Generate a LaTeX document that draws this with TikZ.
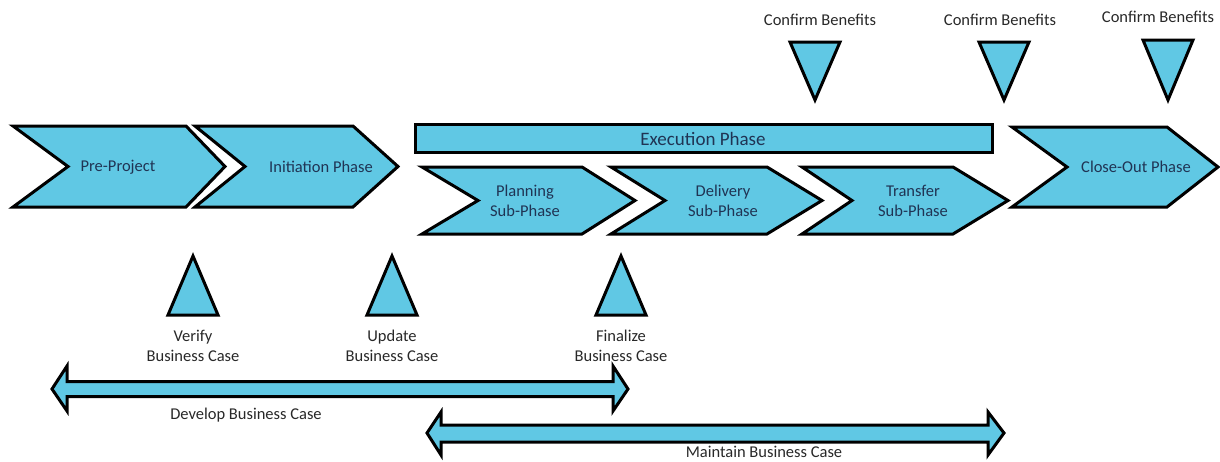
\documentclass[tikz,border=0pt]{standalone}
\usepackage{fontspec}
\setmainfont{Carlito}
\definecolor{phasefill}{RGB}{96,200,228}
\definecolor{phasetext}{RGB}{32,52,84}
\definecolor{notetext}{RGB}{40,40,40}

\tikzset{
  phase/.style={draw=black, line width=3pt, fill=phasefill, line join=miter},
  phaselabel/.style={text=phasetext, font=\fontsize{16.5}{20}\selectfont, align=center, inner sep=0pt},
  notelabel/.style={text=notetext, font=\fontsize{16.5}{20}\selectfont, align=center, inner sep=0pt}
}

\begin{document}
\begin{tikzpicture}[x=1pt,y=-1pt]
\useasboundingbox (0,0) rectangle (1220,461);

% phase chevrons: left / notch / top right / tip / top / bottom
\foreach \l/\n/\r/\t/\yt/\yb in {13/68/186/225/126/207, 195/245/353/398/126/207,
                                   422/478/582/635/167/234, 611/665/767/822/167/234,
                                   802/852/953/1008/167/234, 1012/1067/1167/1218/127/207}
{
  \pgfmathsetmacro\ym{(\yt+\yb)/2}
  \draw[phase] (\l,\yt) -- (\r,\yt) -- (\t,\ym) -- (\r,\yb) -- (\l,\yb) -- (\n,\ym) -- cycle;
}
\node[phaselabel] (pre) at (118,167) {Pre-Project};
\node[phaselabel] (init) at (321,167) {Initiation Phase};
\node[phaselabel] (plan) at (525,201) {Planning\\Sub-Phase};
\node[phaselabel] (deliv) at (723,201) {Delivery\\Sub-Phase};
\node[phaselabel] (trans) at (913,201) {Transfer\\Sub-Phase};
\node[phaselabel] (close) at (1136,167) {Close-Out Phase};

% execution bar
\draw[phase] (415,124) rectangle (992,152);
\node[phaselabel, font=\fontsize{19}{22}\selectfont] (exec) at (703,139) {Execution Phase};

% benefit milestones
\foreach \x/\yt/\lx/\ly/\nm in {815/42/820/20/cb1, 1004/42/1000/20/cb2, 1168/40/1158/17/cb3}
{
  \draw[phase] (\x-25,\yt) -- (\x+25,\yt) -- (\x,100) -- cycle;
  \node[notelabel] (\nm) at (\lx,\ly) {Confirm Benefits};
}

% business case milestones
\foreach \x/\nm/\txt in {193/verify/Verify, 392/update/Update, 621/final/Finalize}
{
  \draw[phase] (\x-25,315) -- (\x+25,315) -- (\x,256) -- cycle;
  \node[notelabel] (\nm) at (\x,346) {\txt\\Business Case};
}

% business case spans
\draw[phase] (52,389) -- (67,366) -- (67,381.5) -- (613,381.5) -- (613,366) -- (628,389)
  -- (613,411) -- (613,396.5) -- (67,396.5) -- (67,411) -- cycle;
\node[notelabel] (develop) at (246,415) {Develop Business Case};

\draw[phase] (427,433) -- (441,412) -- (441,425) -- (988,425) -- (988,412) -- (1004,433)
  -- (988,455) -- (988,442) -- (441,442) -- (441,455) -- cycle;
\node[notelabel] (maintain) at (764,452) {Maintain Business Case};
\end{tikzpicture}
\end{document}
